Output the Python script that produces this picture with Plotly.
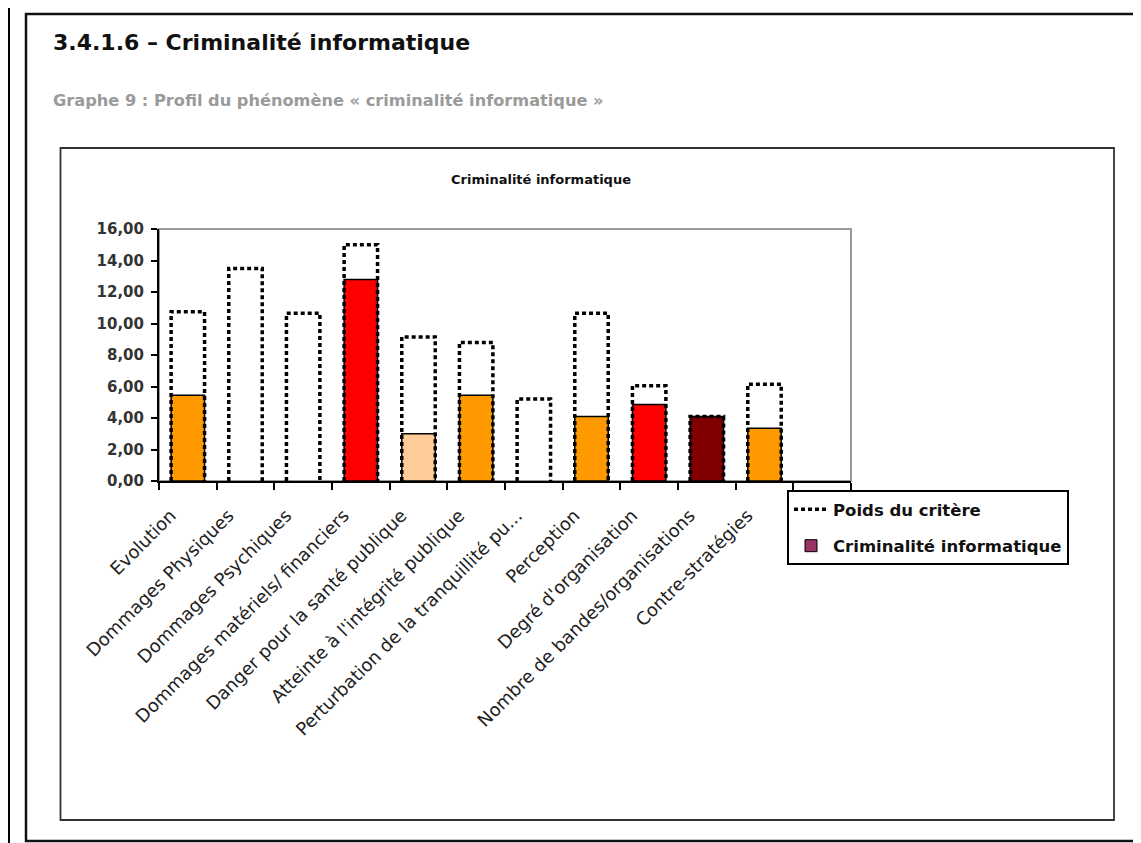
import plotly.graph_objects as go

# ---------------- data ----------------
categories = [
    "Evolution",
    "Dommages Physiques",
    "Dommages Psychiques",
    "Dommages matériels/ financiers",
    "Danger pour la santé publique",
    "Atteinte à l'intégrité publique",
    "Perturbation de la tranquillité pu...",
    "Perception",
    "Degré d'organisation",
    "Nombre de bandes/organisations",
    "Contre-stratégies",
    " ",
]
poids_critere = [10.75, 13.5, 10.65, 15.0, 9.15, 8.8, 5.2, 10.65, 6.05, 4.1, 6.15, None]
criminalite = [5.45, None, None, 12.8, 3.0, 5.45, None, 4.1, 4.85, 4.1, 3.35, None]
bar_colors = ["#FF9900", "#FFFFFF", "#FFFFFF", "#FF0000", "#FFCC99", "#FF9900",
              "#FFFFFF", "#FF9900", "#FF0000", "#800000", "#FF9900", "#FFFFFF"]
y_ticks = [0, 2, 4, 6, 8, 10, 12, 14, 16]

# ---------------- geometry helpers (page pixels -> paper) ----------------
OFF = 8  # browser body margin
W, H = 1141 - OFF, 843 - OFF
PL, PR, PT, PB = 159, 851, 229, 481  # plot area in page pixels


def xp(px):
    return (px - PL) / (PR - PL)


def yp(py):
    return (PB - py) / (PB - PT)


BAR_W = 0.58

# dotted outline of "Poids du critère" computed from data
ox, oy = [], []
for i, v in enumerate(poids_critere):
    if v is None:
        continue
    ox += [i - BAR_W / 2, i - BAR_W / 2, i + BAR_W / 2, i + BAR_W / 2, None]
    oy += [0, v, v, 0, None]

fig = go.Figure()

fig.add_trace(go.Bar(
    x=categories, y=criminalite, width=BAR_W,
    marker=dict(color=bar_colors, line=dict(color="#000000", width=1.5)),
    name="Criminalité informatique", showlegend=False,
))

fig.add_trace(go.Scatter(
    x=ox, y=oy, xaxis="x2", mode="lines",
    line=dict(color="#000000", width=3.5, dash="4px,3px"),
    name="Poids du critère", legendgroup="a",
))

fig.add_trace(go.Bar(
    x=[None], y=[None], name="Criminalité informatique", legendgroup="b",
    marker=dict(color="#993366", line=dict(color="#000000", width=1)),
))

fig.update_layout(
    width=W, height=H,
    margin=dict(l=PL - OFF, r=W - (PR - OFF), t=PT - OFF, b=H - (PB - OFF), pad=0),
    paper_bgcolor="white", plot_bgcolor="white",
    separators=", ",
    barmode="overlay",
    xaxis=dict(
        type="category", range=[-0.5, len(categories) - 0.5],
        tickson="boundaries", ticks="outside", ticklen=7, tickwidth=1.5, tickcolor="#000",
        showline=True, linecolor="#000", linewidth=2, showgrid=False,
        tickangle=-45,
        tickfont=dict(family="DejaVu Sans", size=18, color="#222"),
        ticklabelstandoff=15, ticklabelshift=-17,
        fixedrange=True,
    ),
    xaxis2=dict(
        overlaying="x", range=[-0.5, len(categories) - 0.5], visible=False,
    ),
    yaxis=dict(
        range=[0, 16], tickvals=y_ticks, tickformat=".2f",
        ticks="outside", ticklen=6, tickwidth=1.5, tickcolor="#000",
        showline=True, linecolor="#000", linewidth=2, showgrid=False, zeroline=False,
        tickfont=dict(family="DejaVu Sans", size=15, color="#333", weight="bold"),
        ticklabelstandoff=4,
    ),
    legend=dict(
        x=xp(787), y=yp(490), xanchor="left", yanchor="top",
        bordercolor="#000", borderwidth=2, bgcolor="white",
        font=dict(family="DejaVu Sans", size=16.5, color="#111", weight="bold"),
        traceorder="grouped", tracegroupgap=12,
        itemwidth=34,
    ),
    showlegend=True,
)

# frames
shapes = [
    # outer page lines
    dict(type="line", x0=xp(7), x1=xp(1141), y0=yp(6.5), y1=yp(6.5), line=dict(color="#000", width=3)),
    dict(type="line", x0=xp(8.5), x1=xp(8.5), y0=yp(6), y1=yp(843), line=dict(color="#000", width=3)),
    # inner page box
    dict(type="rect", x0=xp(26), x1=xp(1138), y0=yp(14), y1=yp(841), line=dict(color="#111", width=2.5)),
    # chart area box
    dict(type="rect", x0=xp(60.5), x1=xp(1114), y0=yp(148), y1=yp(820), line=dict(color="#333", width=1.8)),
    # plot area border (gray top/right)
    dict(type="rect", x0=0, x1=1, y0=0, y1=1, line=dict(color="#999", width=2), layer="below"),
]
for s in shapes:
    s.setdefault("xref", "paper")
    s.setdefault("yref", "paper")
fig.update_layout(shapes=shapes)

annotations = [
    dict(text="3.4.1.6 – Criminalité informatique", x=xp(51), y=yp(42), xanchor="left", yanchor="middle",
         font=dict(family="DejaVu Sans", size=22, color="#111", weight="bold")),
    dict(text="Graphe 9 : Profil du phénomène « criminalité informatique »", x=xp(51), y=yp(100),
         xanchor="left", yanchor="middle",
         font=dict(family="DejaVu Sans", size=16.2, color="#9a9a9a", weight="bold")),
    dict(text="Criminalité informatique", x=xp(541), y=yp(179), xanchor="center", yanchor="middle",
         font=dict(family="DejaVu Sans", size=13, color="#111", weight="bold")),
]
for a in annotations:
    a.update(xref="paper", yref="paper", showarrow=False)
fig.update_layout(annotations=annotations)

fig.write_html("out.html")
